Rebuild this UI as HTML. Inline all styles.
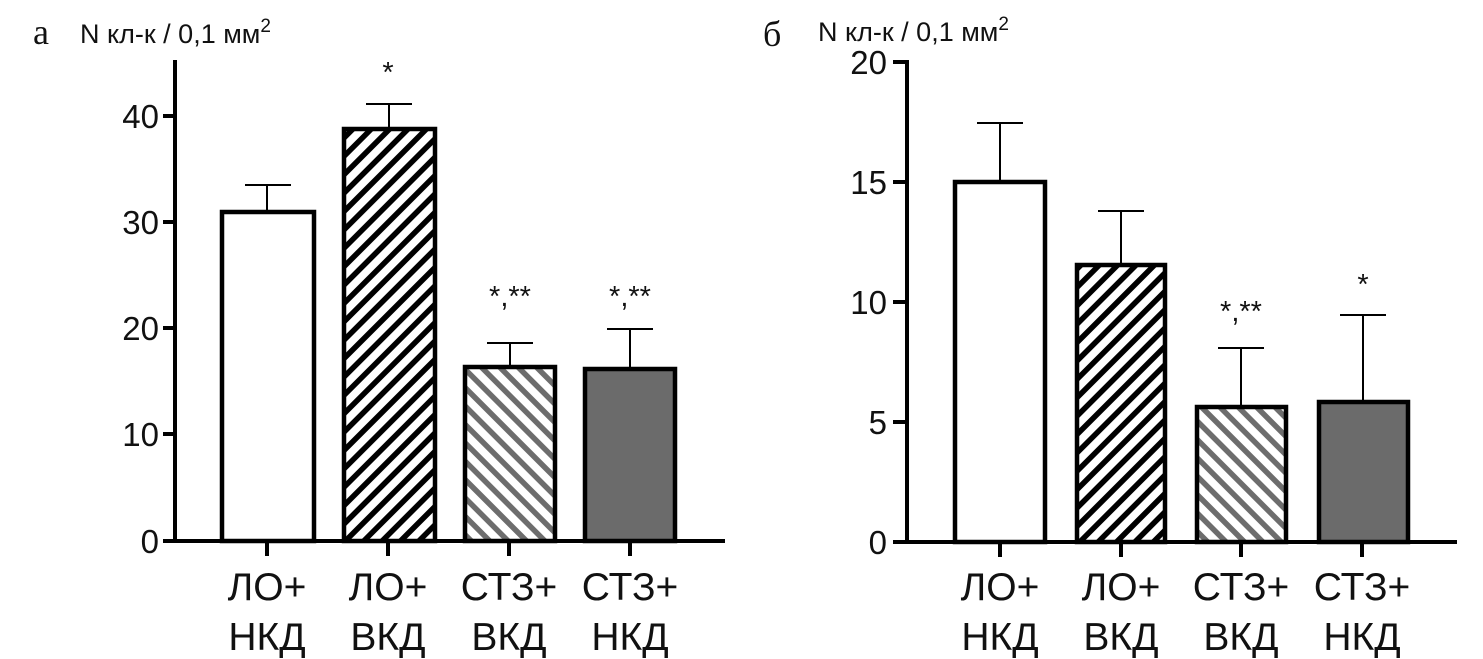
<!DOCTYPE html>
<html><head><meta charset="utf-8"><style>
html,body{margin:0;padding:0;background:#fff;}
svg{display:block;}
text{font-family:"Liberation Sans",Arial,sans-serif;fill:#111;}
</style></head><body>
<svg width="1483" height="659" viewBox="0 0 1483 659" xmlns="http://www.w3.org/2000/svg">
<defs>
<pattern id="hb" patternUnits="userSpaceOnUse" width="13" height="13" patternTransform="rotate(45)">
<rect width="13" height="13" fill="#fff"/><rect x="0" y="0" width="5.5" height="13" fill="#000"/>
</pattern>
<pattern id="hg" patternUnits="userSpaceOnUse" width="13" height="13" patternTransform="rotate(-45)">
<rect width="13" height="13" fill="#fff"/><rect x="0" y="0" width="5.5" height="13" fill="#6d6d6d"/>
</pattern>
</defs>

<!-- LEFT -->
<text x="33" y="44" style="font-family:'Liberation Serif',serif;font-size:36px">а</text>
<text x="80" y="43" font-size="27">N кл-к / 0,1 мм<tspan dy="-11" font-size="19">2</tspan></text>
<g stroke="#000" stroke-width="4" fill="none">
<line x1="175" y1="60" x2="175" y2="543"/>
<line x1="173" y1="541" x2="725" y2="541"/>
<line x1="163" y1="116" x2="175" y2="116"/>
<line x1="163" y1="222" x2="175" y2="222"/>
<line x1="163" y1="328" x2="175" y2="328"/>
<line x1="163" y1="434" x2="175" y2="434"/>
<line x1="163" y1="541" x2="175" y2="541"/>
<line x1="267" y1="541" x2="267" y2="556"/>
<line x1="388" y1="541" x2="388" y2="556"/>
<line x1="509" y1="541" x2="509" y2="556"/>
<line x1="630" y1="541" x2="630" y2="556"/>
</g>
<g font-size="33" text-anchor="end">
<text x="159" y="128">40</text><text x="159" y="234">30</text><text x="159" y="340">20</text><text x="159" y="446">10</text><text x="159" y="553">0</text>
</g>
<g stroke="#000" stroke-width="2">
<line x1="267" y1="212" x2="267" y2="185"/><line x1="245" y1="185" x2="291" y2="185"/>
<line x1="389" y1="129" x2="389" y2="104"/><line x1="366" y1="104" x2="412" y2="104"/>
<line x1="510" y1="366" x2="510" y2="343"/><line x1="487" y1="343" x2="533" y2="343"/>
<line x1="630" y1="369" x2="630" y2="329"/><line x1="607" y1="329" x2="653" y2="329"/>
</g>
<g stroke="#000" stroke-width="4.5">
<rect x="222" y="212" width="92" height="329" fill="#fff"/>
<rect x="344" y="129" width="91" height="412" fill="url(#hb)"/>
<rect x="465" y="367" width="90" height="174" fill="url(#hg)"/>
<rect x="585" y="369" width="90" height="172" fill="#6b6b6b"/>
</g>
<g font-size="29" text-anchor="middle">
<text x="388" y="82">*</text>
<text x="510" y="306">*,**</text>
<text x="630" y="306">*,**</text>
</g>
<g font-size="39" text-anchor="middle">
<text x="267" y="600">ЛО+</text><text x="267" y="650">НКД</text>
<text x="388" y="600">ЛО+</text><text x="388" y="650">ВКД</text>
<text x="509" y="600">СТЗ+</text><text x="509" y="650">ВКД</text>
<text x="630" y="600">СТЗ+</text><text x="630" y="650">НКД</text>
</g>

<!-- RIGHT -->
<text x="763" y="46" style="font-family:'Liberation Serif',serif;font-size:36px">б</text>
<text x="818" y="41" font-size="27">N кл-к / 0,1 мм<tspan dy="-11" font-size="19">2</tspan></text>
<g stroke="#000" stroke-width="4" fill="none">
<line x1="907" y1="60" x2="907" y2="544"/>
<line x1="905" y1="542" x2="1457" y2="542"/>
<line x1="893" y1="62" x2="907" y2="62"/>
<line x1="893" y1="182" x2="907" y2="182"/>
<line x1="893" y1="302" x2="907" y2="302"/>
<line x1="893" y1="422" x2="907" y2="422"/>
<line x1="893" y1="542" x2="907" y2="542"/>
<line x1="1000" y1="542" x2="1000" y2="557"/>
<line x1="1121" y1="542" x2="1121" y2="557"/>
<line x1="1241" y1="542" x2="1241" y2="557"/>
<line x1="1362" y1="542" x2="1362" y2="557"/>
</g>
<g font-size="33" text-anchor="end">
<text x="887" y="74">20</text><text x="887" y="194">15</text><text x="887" y="314">10</text><text x="887" y="434">5</text><text x="887" y="554">0</text>
</g>
<g stroke="#000" stroke-width="2">
<line x1="1000" y1="182" x2="1000" y2="123"/><line x1="977" y1="123" x2="1023" y2="123"/>
<line x1="1121" y1="265" x2="1121" y2="211"/><line x1="1098" y1="211" x2="1144" y2="211"/>
<line x1="1241" y1="407" x2="1241" y2="348"/><line x1="1218" y1="348" x2="1264" y2="348"/>
<line x1="1363" y1="402" x2="1363" y2="315"/><line x1="1340" y1="315" x2="1386" y2="315"/>
</g>
<g stroke="#000" stroke-width="4.5">
<rect x="955" y="182" width="90" height="360" fill="#fff"/>
<rect x="1077" y="265" width="88" height="277" fill="url(#hb)"/>
<rect x="1197" y="407" width="89" height="135" fill="url(#hg)"/>
<rect x="1319" y="402" width="89" height="140" fill="#6b6b6b"/>
</g>
<g font-size="29" text-anchor="middle">
<text x="1241" y="321">*,**</text>
<text x="1363" y="294">*</text>
</g>
<g font-size="39" text-anchor="middle">
<text x="1000" y="600">ЛО+</text><text x="1000" y="650">НКД</text>
<text x="1121" y="600">ЛО+</text><text x="1121" y="650">ВКД</text>
<text x="1241" y="600">СТЗ+</text><text x="1241" y="650">ВКД</text>
<text x="1362" y="600">СТЗ+</text><text x="1362" y="650">НКД</text>
</g>
</svg>
</body></html>
